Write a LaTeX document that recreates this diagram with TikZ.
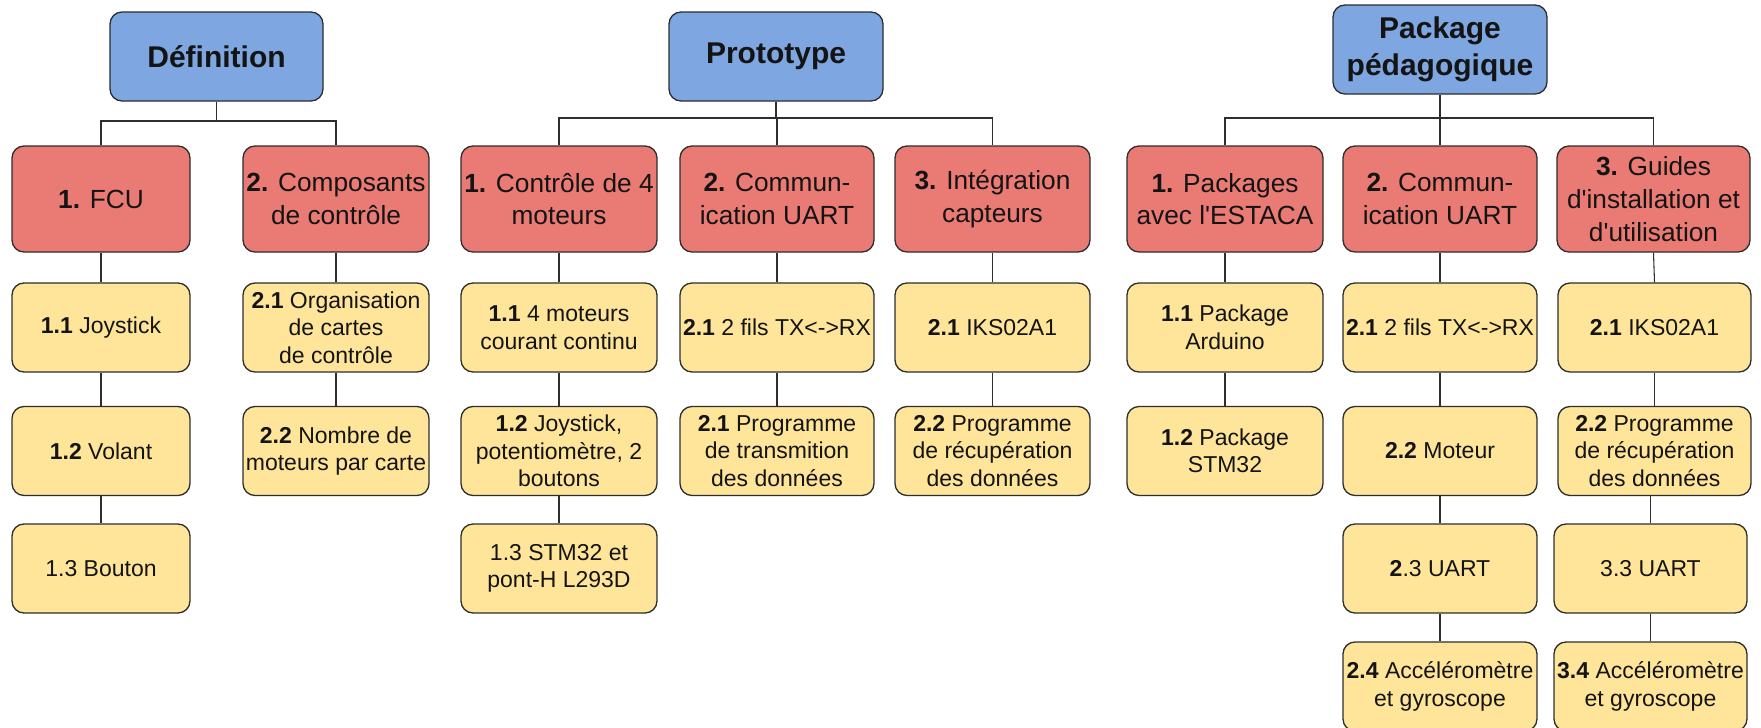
\documentclass[tikz,border=0pt]{standalone}
\usepackage{fontspec}
\setmainfont{Liberation Sans}
\definecolor{bluef}{HTML}{7EA6E0}
\definecolor{redf}{HTML}{EA7B74}
\definecolor{yelf}{HTML}{FFE599}
\definecolor{edgec}{HTML}{2E2E2E}
\begin{document}
\begin{tikzpicture}[x=0.75pt,y=-0.75pt,
  box/.style={draw=edgec, line width=1pt, rounded corners=9pt, inner sep=0pt, align=center, text=black!92},
  bw/.style={minimum width=#1*0.75pt},
  topbox/.style={box, fill=bluef, font=\fontsize{22.5}{27.5}\selectfont\bfseries, minimum height=66.75pt},
  subbox/.style={box, fill=redf, font=\fontsize{19.7}{24.5}\selectfont, minimum height=79.5pt},
  leafbox/.style={box, fill=yelf, font=\fontsize{17.25}{20.6}\selectfont, minimum height=66.75pt},
  wire/.style={draw=edgec, line width=0.8pt}]
\useasboundingbox (0,0) rectangle (1761,728);
\fill[white] (0,0) rectangle (1761,728);

% ---------- Définition ----------
\node[topbox,bw=213] (def) at (216.5,56.5) {Définition};
\node[subbox,bw=178] (fcu) at (101,199) {\textbf{1.} FCU};
\node[subbox,bw=186] (comp) at (336,199) {\textbf{2.} Composants\\de contrôle};
\node[leafbox,bw=178] (d11) at (101,327.5) {\textbf{1.1} Joystick};
\node[leafbox,bw=178] (d12) at (101,451) {\textbf{1.2} Volant};
\node[leafbox,bw=178] (d13) at (101,568.5) {1.3 Bouton};
\node[leafbox,bw=186] (d21) at (336,327.5) {\textbf{2.1} Organisation\\de cartes\\de contrôle};
\node[leafbox,bw=186] (d22) at (336,451) {\textbf{2.2} Nombre de\\moteurs par carte};

% ---------- Prototype ----------
\node[topbox,bw=214] (proto) at (776,56.5) {Prototype};
\node[subbox,bw=196] (p1) at (559,199) {\textbf{1.} Contrôle de 4\\moteurs};
\node[subbox,bw=194] (p2) at (777,199) {\textbf{2.} Commun-\\ication UART};
\node[subbox,bw=195] (p3) at (992.5,199) {\textbf{3.} Intégration\\capteurs};
\node[leafbox,bw=196] (p11) at (559,327.5) {\textbf{1.1} 4 moteurs\\courant continu};
\node[leafbox,bw=196] (p12) at (559,451) {\textbf{1.2} Joystick,\\potentiomètre, 2\\boutons};
\node[leafbox,bw=196] (p13) at (559,568.5) {1.3 STM32 et\\pont-H L293D};
\node[leafbox,bw=194] (p21) at (777,327.5) {\textbf{2.1} 2 fils TX<->RX};
\node[leafbox,bw=194] (p22) at (777,451) {\textbf{2.1} Programme\\de transmition\\des données};
\node[leafbox,bw=195] (p31) at (992.5,327.5) {\textbf{2.1} IKS02A1};
\node[leafbox,bw=195] (p32) at (992.5,451) {\textbf{2.2} Programme\\de récupération\\des données};

% ---------- Package pédagogique ----------
\node[topbox,bw=214] (ped) at (1440,49.5) {Package\\pédagogique};
\node[subbox,bw=196] (g1) at (1225,199) {\textbf{1.} Packages\\avec l\textquotesingle ESTACA};
\node[subbox,bw=194] (g2) at (1440,199) {\textbf{2.} Commun-\\ication UART};
\node[subbox,bw=193] (g3) at (1653.5,199) {\textbf{3.} Guides\\d\textquotesingle installation et\\d\textquotesingle utilisation};
\node[leafbox,bw=196] (g11) at (1225,327.5) {\textbf{1.1} Package\\Arduino};
\node[leafbox,bw=196] (g12) at (1225,451) {\textbf{1.2} Package\\STM32};
\node[leafbox,bw=194] (g21) at (1440,327.5) {\textbf{2.1} 2 fils TX<->RX};
\node[leafbox,bw=194] (g22) at (1440,451) {\textbf{2.2} Moteur};
\node[leafbox,bw=194] (g23) at (1440,568.5) {\textbf{2}.3 UART};
\node[leafbox,bw=194] (g24) at (1440,686.5) {\textbf{2.4} Accéléromètre\\et gyroscope};
\node[leafbox,bw=193] (g31) at (1654.5,327.5) {\textbf{2.1} IKS02A1};
\node[leafbox,bw=193] (g32) at (1654.5,451) {\textbf{2.2} Programme\\de récupération\\des données};
\node[leafbox,bw=193] (g33) at (1650.5,568.5) {3.3 UART};
\node[leafbox,bw=193] (g34) at (1650.5,686.5) {\textbf{3.4} Accéléromètre\\et gyroscope};

% ---------- connectors ----------
\coordinate (bd) at (0,121);
\coordinate (bp) at (0,118);
\coordinate (bg) at (0,118);

\draw[wire] (def.south) -- (def.south |- bd) -| (fcu.north);
\draw[wire] (def.south |- bd) -| (comp.north);
\draw[wire] (fcu.south) -- (d11.north);
\draw[wire] (d11.south) -- (d12.north);
\draw[wire] (d12.south) -- (d13.north);
\draw[wire] (comp.south) -- (d21.north);
\draw[wire] (d21.south) -- (d22.north);

\draw[wire] (proto.south) -- (proto.south |- bp) -| (p1.north);
\draw[wire] (proto.south |- bp) -| (p3.north);
\draw[wire] (proto.south |- bp) -| (p2.north);
\draw[wire] (p1.south) -- (p11.north);
\draw[wire] (p11.south) -- (p12.north);
\draw[wire] (p12.south) -- (p13.north);
\draw[wire] (p2.south) -- (p21.north);
\draw[wire] (p21.south) -- (p22.north);
\draw[wire] (p3.south) -- (p31.north);
\draw[wire] (p31.south) -- (p32.north);

\draw[wire] (ped.south) -- (ped.south |- bg) -| (g1.north);
\draw[wire] (ped.south |- bg) -| (g3.north);
\draw[wire] (ped.south |- bg) -| (g2.north);
\draw[wire] (g1.south) -- (g11.north);
\draw[wire] (g11.south) -- (g12.north);
\draw[wire] (g2.south) -- (g21.north);
\draw[wire] (g21.south) -- (g22.north);
\draw[wire] (g22.south) -- (g23.north);
\draw[wire] (g23.south) -- (g24.north);
\draw[wire] (g3.south) -- (g31.north);
\draw[wire] (g31.south) -- (g32.north);
\draw[wire] (g33.north |- g32.south) -- (g33.north);
\draw[wire] (g33.south) -- (g34.north);
\end{tikzpicture}
\end{document}
